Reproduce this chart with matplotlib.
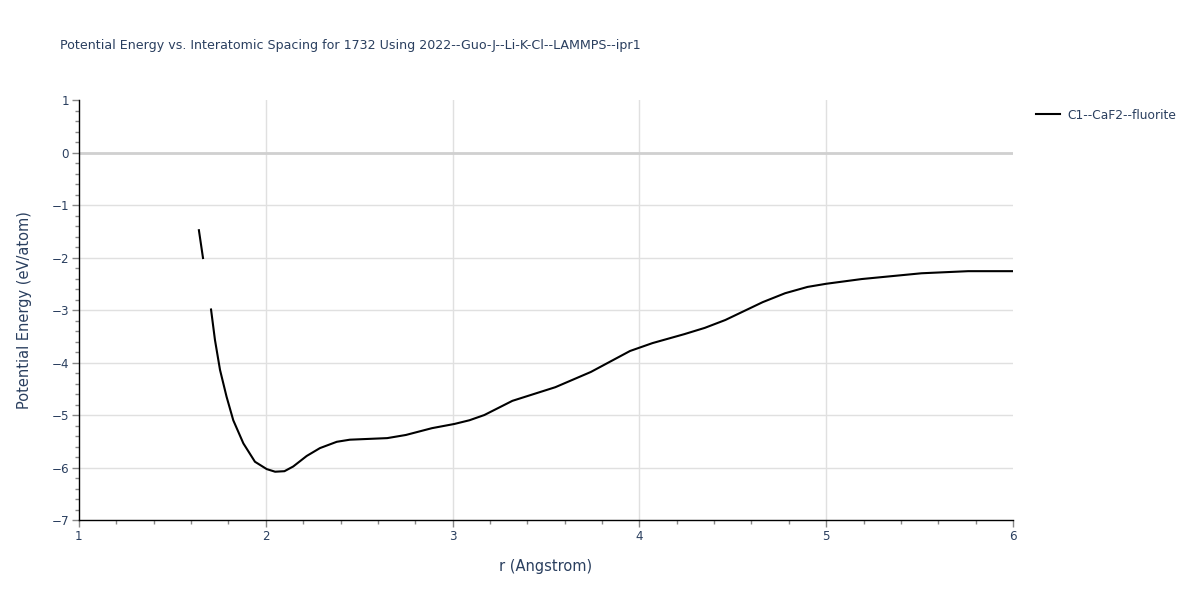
import matplotlib
import matplotlib.pyplot as plt
import numpy as np
from matplotlib.ticker import MultipleLocator

matplotlib.use("Agg")

TEXT = "#2a3f5f"
GRID = "#e0e0e0"

TITLE = "Potential Energy vs. Interatomic Spacing for 1732 Using 2022--Guo-J--Li-K-Cl--LAMMPS--ipr1"
SERIES = "C1--CaF2--fluorite"

# 読み取り値（NaN は線が途切れている所）
r = [1.642, 1.664, 1.68, 1.707, 1.728, 1.755, 1.79, 1.826, 1.88, 1.942, 2.005,
     2.05, 2.10, 2.147, 2.219, 2.29, 2.38, 2.45, 2.55, 2.65, 2.75, 2.89, 3.01,
     3.09, 3.17, 3.32, 3.55, 3.74, 3.95, 4.07, 4.24, 4.35, 4.46, 4.66, 4.78,
     4.90, 5.00, 5.19, 5.51, 5.76, 6.0]
energy = [-1.48, -2.01, np.nan, -2.99, -3.57, -4.14, -4.65, -5.10, -5.54, -5.89,
          -6.03, -6.08, -6.07, -5.98, -5.78, -5.63, -5.51, -5.47, -5.455, -5.44,
          -5.38, -5.25, -5.17, -5.10, -5.00, -4.73, -4.47, -4.18, -3.78, -3.63,
          -3.46, -3.34, -3.19, -2.85, -2.68, -2.56, -2.50, -2.41, -2.30, -2.26,
          -2.26]
x_ticks = [1, 2, 3, 4, 5, 6]
y_ticks = [-7, -6, -5, -4, -3, -2, -1, 0, 1]

plt.rcParams["font.family"] = ["DejaVu Sans"]

fig = plt.figure(figsize=(12, 6), dpi=100)
ax = fig.add_axes([0.0658, 0.1333, 0.7784, 0.7])

ax.plot(r, energy, color="black", linewidth=1.5, label=SERIES, zorder=3)

ax.set_xlim(x_ticks[0], x_ticks[-1])
ax.set_ylim(y_ticks[0], y_ticks[-1])
ax.set_xticks(x_ticks)
ax.set_yticks(y_ticks)
ax.xaxis.set_minor_locator(MultipleLocator(0.2))
ax.yaxis.set_minor_locator(MultipleLocator(0.2))

# 端以外のグリッド線だけ描く
for v in x_ticks[1:-1]:
    ax.axvline(v, color=GRID, linewidth=1, zorder=0)
for v in y_ticks[1:-1]:
    ax.axhline(v, color=GRID, linewidth=1, zorder=0)
ax.axhline(0, color="#d0d0d0", linewidth=2, zorder=1)

for side in ["top", "right"]:
    ax.spines[side].set_visible(False)
for side in ["left", "bottom"]:
    ax.spines[side].set_color("black")
    ax.spines[side].set_linewidth(1)

ax.tick_params(which="major", direction="out", length=5, width=1, color="#888888",
               labelsize=8.6, labelcolor=TEXT, pad=2)
ax.tick_params(which="minor", direction="out", length=3, width=1, color="#888888")

ax.set_xlabel("r (Angstrom)", fontsize=10.5, color=TEXT, labelpad=12)
ax.set_ylabel("Potential Energy (eV/atom)", fontsize=10.5, color=TEXT, labelpad=14)

fig.text(0.05, 0.925, TITLE, fontsize=9.1, color=TEXT, ha="left", va="center")

leg = ax.legend(loc="upper left", bbox_to_anchor=(1.015, 1.0), frameon=False,
                fontsize=8.8, handlelength=2.0, handletextpad=0.6, borderaxespad=0.3)
for t in leg.get_texts():
    t.set_color(TEXT)

fig.savefig("out.png", dpi=100)
